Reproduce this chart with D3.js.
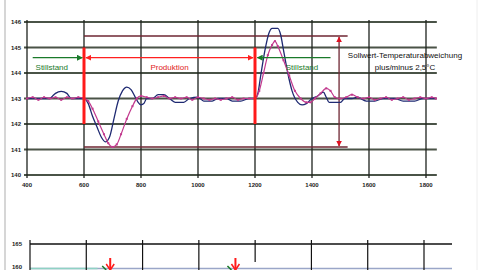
<!DOCTYPE html>
<html><head><meta charset="utf-8">
<script src="https://cdn.jsdelivr.net/npm/d3@7"></script>
<style>body{margin:0;background:#fff}svg{display:block;font-family:"Liberation Sans",Arial,sans-serif}</style>
</head><body><svg id="c" width="480" height="270"></svg>
<script>
const xTicks = [400, 600, 800, 1000, 1200, 1400, 1600, 1800];
const yTicks = [140, 141, 142, 143, 144, 145, 146];
const blueTime = [400,420,450,480,490,500,520,540,555,580,600,615,630,645,660,675,690,705,720,735,750,765,780,790,800,810,820,840,860,880,900,920,950,970,1000,1020,1050,1070,1100,1120,1150,1180,1200,1210,1220,1235,1250,1260,1280,1290,1300,1315,1330,1350,1365,1380,1400,1420,1440,1450,1460,1480,1500,1515,1540,1560,1590,1620,1650,1690,1720,1760,1790,1835];
const blueTemp = [143.0,143.0,143.0,143.0,143.1,143.2,143.28,143.2,143.0,143.0,143.0,142.8,142.3,141.9,141.5,141.3,141.5,142.2,142.9,143.3,143.45,143.35,143.05,142.85,142.75,142.8,143.0,143.0,143.15,143.15,143.0,142.85,142.85,143.0,143.05,142.9,142.9,143.0,143.0,142.9,142.9,143.0,143.0,143.2,143.9,144.9,145.6,145.75,145.75,145.5,144.9,144.0,143.3,142.85,142.75,142.8,143.0,143.1,143.25,143.05,142.85,142.85,142.85,143.0,143.0,143.05,142.9,142.9,143.0,143.0,142.9,142.9,143.0,143.0];
const magTime = [400,420,440,460,480,500,520,540,560,580,600,615,630,650,670,685,700,715,730,750,770,785,800,820,840,860,880,900,920,940,960,980,1000,1020,1040,1060,1080,1100,1120,1140,1160,1180,1200,1215,1230,1245,1260,1270,1280,1300,1320,1340,1360,1380,1395,1410,1430,1450,1465,1480,1500,1520,1540,1560,1580,1600,1620,1640,1660,1680,1700,1720,1740,1760,1780,1800,1820,1835];
const magTemp = [143.0,143.05,142.95,143.05,143.0,143.05,142.95,143.05,143.0,143.05,143.0,142.9,142.6,142.1,141.6,141.25,141.1,141.2,141.6,142.2,142.7,143.0,143.1,143.05,143.0,143.05,143.1,143.0,143.05,143.0,143.05,142.95,143.05,143.0,142.95,143.0,142.95,143.0,143.05,142.95,143.0,143.0,143.0,143.3,144.0,144.7,145.1,145.25,145.05,144.5,143.9,143.3,143.0,142.85,142.85,143.0,143.2,143.4,143.3,143.05,143.0,143.05,143.15,143.05,143.0,143.05,142.95,143.0,143.05,142.95,143.0,143.05,142.95,143.0,143.05,143.0,143.05,143.0];
const limitTemps = [145.45, 141.1];
const limitRange = [600, 1525];
const phaseTimes = [600, 1200];
const arrowTemp = 144.6;
const labels = ["Stillstand", "Produktion", "Stillstand"];
const noteLines = ["Sollwert-Temperaturabweichung", "plus/minus 2,5°C"];
const lowerTicks = [165, 160];
const lowerMarks = [685, 1130];

const svg = d3.select("#c");
const x = d3.scaleLinear().domain([400, 1800]).range([27, 426]);
const y = d3.scaleLinear().domain([140, 146]).range([175, 22]);
const grid = "#4a5347";

// frame
svg.append("line").attr("x1",5).attr("x2",5).attr("y1",0).attr("y2",270).attr("stroke","#d6d6d6").attr("stroke-width",2);
svg.append("line").attr("x1",477).attr("x2",477).attr("y1",0).attr("y2",270).attr("stroke","#eeeeee").attr("stroke-width",1);

// grid
svg.append("g").selectAll("line").data(yTicks).join("line")
  .attr("x1", x(400)-3).attr("x2", x(1838)).attr("y1", d=>y(d)).attr("y2", d=>y(d))
  .attr("stroke", grid).attr("stroke-width", 1.9);
svg.append("g").selectAll("line").data(xTicks).join("line")
  .attr("x1", d=>x(d)).attr("x2", d=>x(d)).attr("y1", y(146)-2).attr("y2", y(140)+3)
  .attr("stroke", "#1e221e").attr("stroke-width", 1.3);

// axes labels
svg.append("g").selectAll("text").data(yTicks).join("text")
  .attr("x", 21).attr("y", d=>y(d)+2).attr("text-anchor","end")
  .attr("font-size", 6).attr("font-weight","bold").attr("fill","#222").text(d=>d);
svg.append("g").selectAll("text").data(xTicks).join("text")
  .attr("x", d=>x(d)).attr("y", 187).attr("text-anchor","middle")
  .attr("font-size", 6).attr("font-weight","bold").attr("fill","#222").text(d=>d);

// limit lines
svg.append("g").selectAll("line").data(limitTemps).join("line")
  .attr("x1", x(limitRange[0])).attr("x2", x(limitRange[1])).attr("y1", d=>y(d)).attr("y2", d=>y(d))
  .attr("stroke", "#6e2632").attr("stroke-width", 1.6);

// defs
const defs = svg.append("defs");
function mk(id, color){
  defs.append("marker").attr("id", id).attr("viewBox","0 0 10 10").attr("refX",9).attr("refY",5)
    .attr("markerWidth",6).attr("markerHeight",6).attr("orient","auto-start-reverse").attr("markerUnits","userSpaceOnUse")
    .append("path").attr("d","M0,0L10,5L0,10Z").attr("fill", color);
}
mk("ar","#ff2020"); mk("ag","#1a7a2a"); mk("ad","#e01020");

// vertical deviation arrow
svg.append("line").attr("x1", x(1495)).attr("x2", x(1495)).attr("y1", y(limitTemps[0])+1).attr("y2", y(limitTemps[1])-1)
  .attr("stroke","#6e2632").attr("stroke-width",1.3)
  .attr("marker-start","url(#ad)").attr("marker-end","url(#ad)");

// data lines
const line = d3.line().x(d=>x(d[0])).y(d=>y(d[1])).curve(d3.curveMonotoneX);
const blue = blueTime.map((t,i)=>[t, blueTemp[i]]);
const mag = magTime.map((t,i)=>[t, magTemp[i]]);
svg.append("path").attr("d", line(blue)).attr("fill","none").attr("stroke","#1f2a72").attr("stroke-width",1.3);
svg.append("path").attr("d", line(mag)).attr("fill","none").attr("stroke","#c23a8e").attr("stroke-width",1.2);
svg.append("g").selectAll("rect").data(mag).join("rect")
  .attr("x", d=>x(d[0])-1).attr("y", d=>y(d[1])-1).attr("width",2).attr("height",2).attr("fill","#c23a8e");

// phase red verticals
svg.append("g").selectAll("line").data(phaseTimes).join("line")
  .attr("x1", d=>x(d)).attr("x2", d=>x(d)).attr("y1", y(145)).attr("y2", y(142))
  .attr("stroke","#ff1a1a").attr("stroke-width",3);

// horizontal arrows
svg.append("line").attr("x1", x(420)).attr("x2", x(594)).attr("y1", y(arrowTemp)).attr("y2", y(arrowTemp))
  .attr("stroke","#1a7a2a").attr("stroke-width",1.3).attr("marker-end","url(#ag)");
svg.append("line").attr("x1", x(1465)).attr("x2", x(1208)).attr("y1", y(arrowTemp)).attr("y2", y(arrowTemp))
  .attr("stroke","#1a7a2a").attr("stroke-width",1.3).attr("marker-end","url(#ag)");
svg.append("line").attr("x1", x(607)).attr("x2", x(1193)).attr("y1", y(arrowTemp)).attr("y2", y(arrowTemp))
  .attr("stroke","#ff2020").attr("stroke-width",1.3).attr("marker-start","url(#ar)").attr("marker-end","url(#ar)");

// phase labels
const labelPos = [[430, "#1a7a2a", "start"], [900, "#e01a1a", "middle"], [1365, "#1a7a2a", "middle"]];
svg.append("g").selectAll("text").data(labels).join("text")
  .attr("x", (d,i)=>x(labelPos[i][0])).attr("y", 70).attr("text-anchor", (d,i)=>labelPos[i][2])
  .attr("font-size", 8).attr("fill", (d,i)=>labelPos[i][1]).text(d=>d);

// note
svg.append("g").selectAll("text").data(noteLines).join("text")
  .attr("x", 405).attr("y", (d,i)=>58+i*12).attr("text-anchor","middle")
  .attr("font-size", 8).attr("fill","#111").text(d=>d);

// lower panel
const x2 = d3.scaleLinear().domain([400, 1800]).range([30, 424]);
const y2 = d3.scaleLinear().domain([160, 165]).range([270, 244]);
svg.append("line").attr("x1", x2(400)).attr("x2", 452).attr("y1", y2(165)).attr("y2", y2(165)).attr("stroke","#111").attr("stroke-width",1.6);
svg.append("line").attr("x1", x2(400)).attr("x2", 452).attr("y1", 268.5).attr("y2", 268.5).attr("stroke","#9aa6c8").attr("stroke-width",1.5);
svg.append("line").attr("x1", x2(400)).attr("x2", x2(640)).attr("y1", 268.5).attr("y2", 268.5).attr("stroke","#8fd2c4").attr("stroke-width",1.5);
svg.append("g").selectAll("line").data(xTicks).join("line")
  .attr("x1", d=>x2(d)).attr("x2", d=>x2(d)).attr("y1", 240).attr("y2", d=>d===1200?262:270)
  .attr("stroke","#111").attr("stroke-width",1.2);
svg.append("g").selectAll("text").data(lowerTicks).join("text")
  .attr("x", 22).attr("y", d=>Math.min(y2(d)+2, 269)).attr("text-anchor","end")
  .attr("font-size", 6).attr("font-weight","bold").attr("fill","#222").text(d=>d);
const lm = svg.append("g").selectAll("g").data(lowerMarks).join("g");
lm.append("line").attr("x1", d=>x2(d)).attr("x2", d=>x2(d)).attr("y1", 258).attr("y2", 270).attr("stroke","#ff1a1a").attr("stroke-width",2);
lm.append("path").attr("d", d=>`M${x2(d)-4},264L${x2(d)},270L${x2(d)+4},264`).attr("fill","none").attr("stroke","#ff1a1a").attr("stroke-width",1.5);
lm.append("path").attr("d", d=>`M${x2(d)-8},266L${x2(d)-4},270`).attr("stroke","#1a7a2a").attr("stroke-width",1.5);
</script></body></html>
